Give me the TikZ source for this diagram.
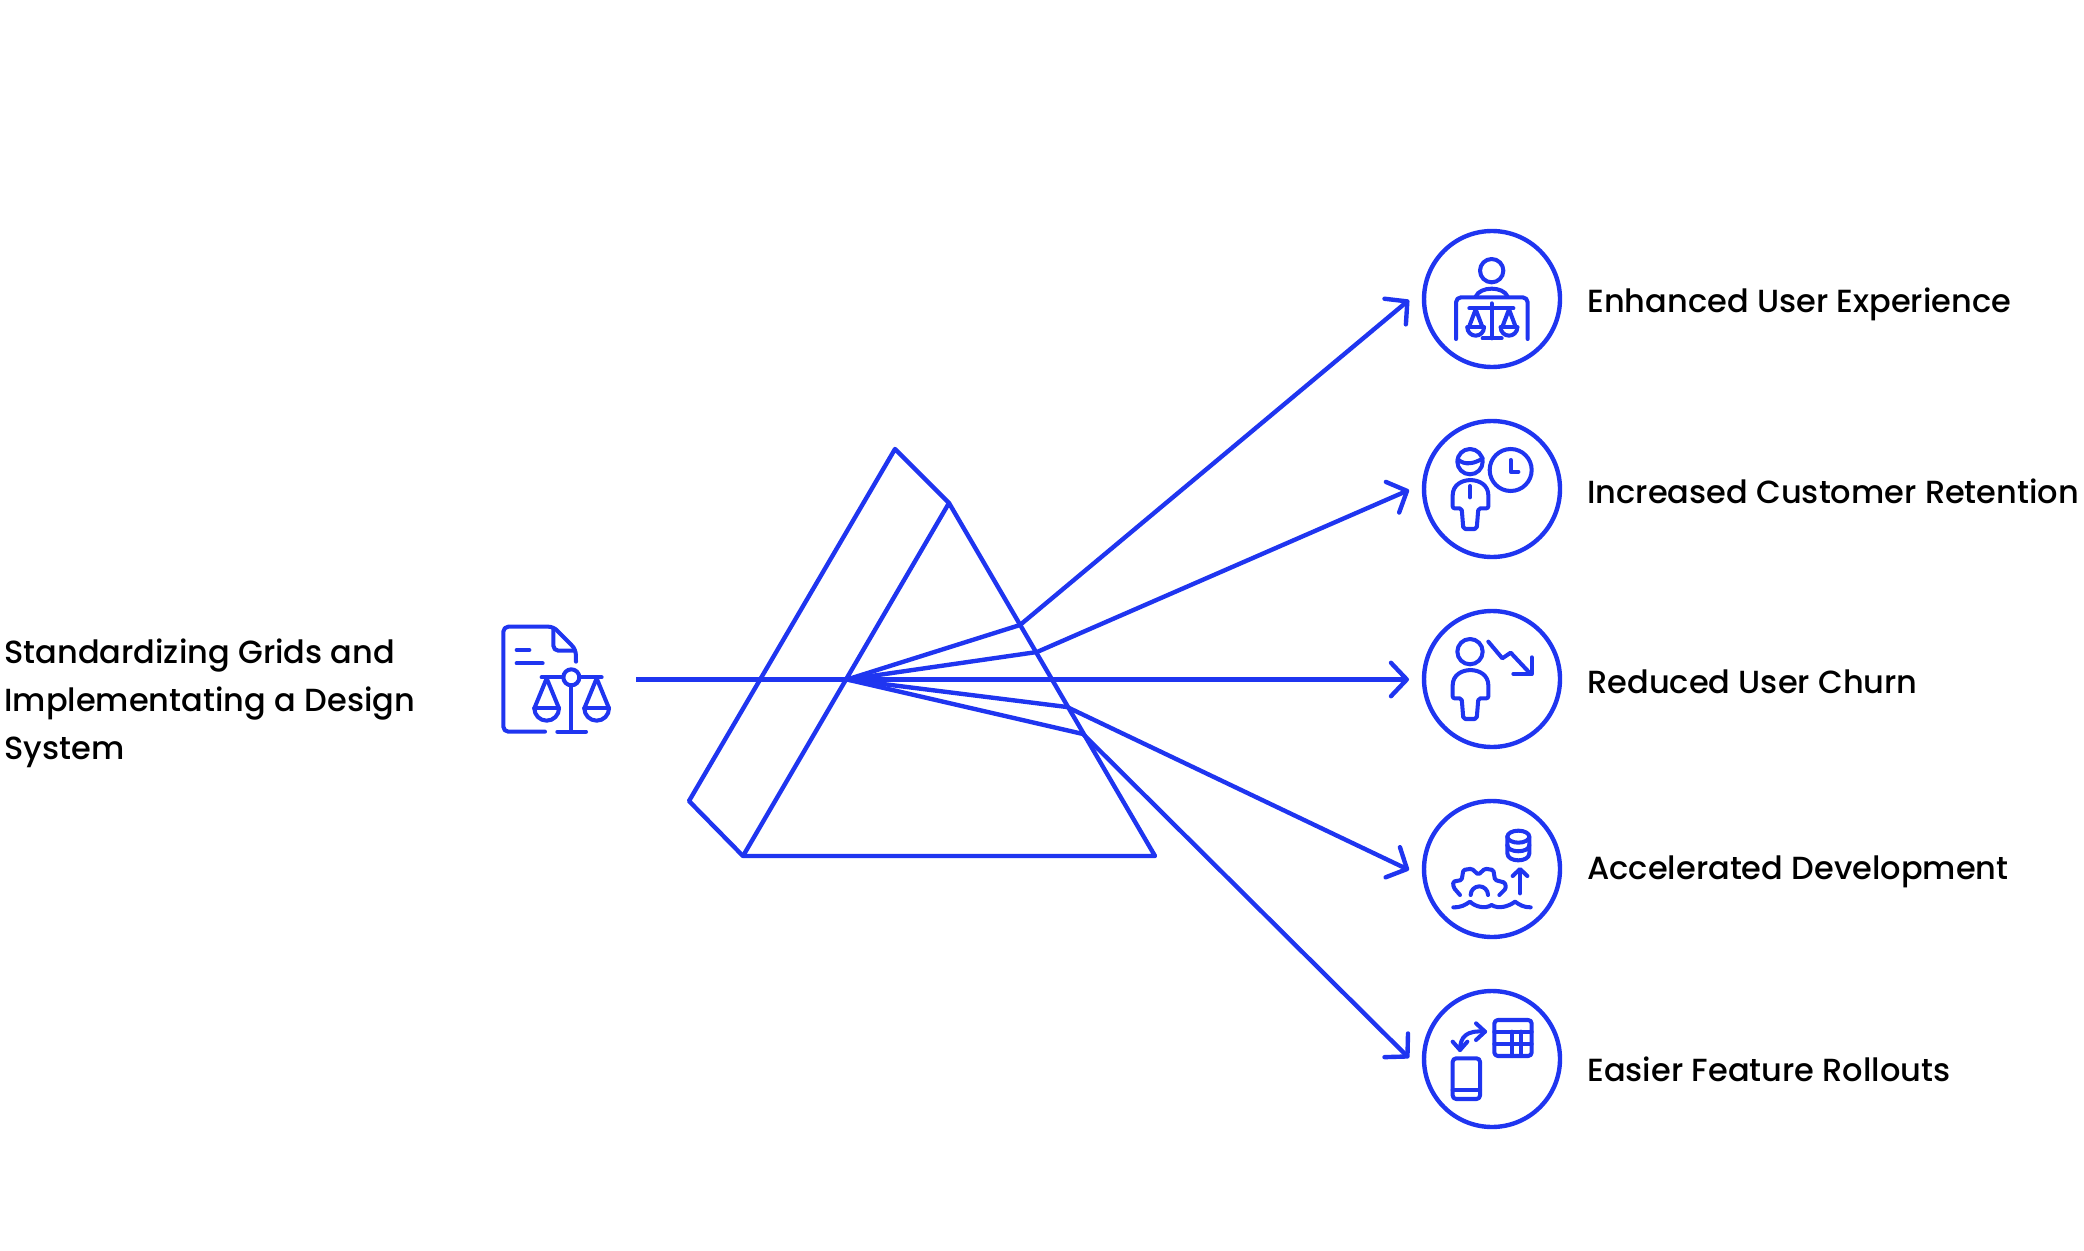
\documentclass[tikz,border=0pt]{standalone}
\usepackage{fontspec}
\setmainfont{Poppins}[UprightFont=* Medium]
\usetikzlibrary{arrows.meta}
\definecolor{prismblue}{HTML}{1F35F0}
\tikzset{
  prism/.style={prismblue,line width=2.5pt,line join=round},
  ray/.style={prismblue,line width=2.5pt,line join=round},
  tip/.style={-{Straight Barb[length=9pt,width=19pt,line width=2.5pt,round]}},
  ring/.style={circle,draw=prismblue,line width=2.5pt,minimum size=2.72cm,inner sep=0pt},
  icon/.style={prismblue,line width=2.3pt,line cap=round,line join=round},
  label/.style={anchor=base west,inner sep=0pt,text=black,font=\fontsize{18.22}{27.3}\selectfont}
}
\begin{document}
\begin{tikzpicture}[x=0.02cm,y=-0.02cm]
  \useasboundingbox (0,0) rectangle (2084,1250);

  % prism
  \coordinate (topa) at (895,449);
  \coordinate (topb) at (949,503);
  \coordinate (right) at (1155,856);
  \coordinate (lowb) at (743,856);
  \coordinate (lowa) at (689,801);
  \draw[prism] (topa)--(topb)--(right)--(lowb)--(lowa)--cycle;
  \draw[prism] (topb)--(lowb);

  % rays
  \coordinate (start) at (636,679.5);
  \coordinate (refract) at (847,679.5);
  \coordinate (exita) at (1020,625);
  \coordinate (exitb) at (1037,652);
  \coordinate (exitd) at (1067,707);
  \coordinate (exite) at (1083,734);
  \coordinate (enda) at (1409,300);
  \coordinate (endb) at (1409,490);
  \coordinate (endc) at (1409,679.5);
  \coordinate (endd) at (1409,870);
  \coordinate (ende) at (1409,1058);
  \draw[ray] (start)--(refract);
  \draw[ray,tip] (refract)--(endc);
  \foreach \n in {a,b,d,e}
    \draw[ray,tip] (refract)--(exit\n)--(end\n);

  % rings and labels
  \node[ring] (ringa) at (1492,299) {};
  \node[ring] (ringb) at (1492,489) {};
  \node[ring] (ringc) at (1492,679) {};
  \node[ring] (ringd) at (1492,869) {};
  \node[ring] (ringe) at (1492,1059) {};
  \node[label] (labela) at (1587,312) {Enhanced User Experience};
  \node[label] (labelb) at (1587,503) {Increased Customer Retention};
  \node[label] (labelc) at (1587,693) {Reduced User Churn};
  \node[label] (labeld) at (1587,879) {Accelerated Development};
  \node[label] (labele) at (1587,1081) {Easier Feature Rollouts};
  \node[label,anchor=west,align=left] (source) at (4,703) {Standardizing Grids and\\Implementating a Design\\System};

  % document with scales
  \begin{scope}[shift={(480,600)},x=0.00667cm,y=-0.00667cm,icon]
    \draw[rounded corners=0.1cm] (195,395)--(70,395)--(70,80)--(220,80)--(287,148)--(288,185);
    \draw[rounded corners=0.1cm] (220,85)--(220,152)--(285,152);
    \draw (110,150)--(148,150);
    \draw (110,190)--(188,190);
    \draw (185,232)--(250,232);
    \draw (298,232)--(365,232);
    \draw (274,232) circle (24);
    \draw (274,256)--(274,395);
    \draw (232,395)--(318,395);
    \foreach \c in {200,350} {
      \draw (\c-37,325)--(\c,235)--(\c+37,325);
      \draw (\c-37,325)--(\c+37,325);
      \draw (\c-37,325) arc (180:0:37);
    }
  \end{scope}

  % person at desk
  \begin{scope}[shift={(1410,220)},x=0.00667cm,y=-0.00667cm,icon]
    \draw (245,152) circle (35);
    \draw (197,230) .. controls (210,198) and (280,198) .. (293,230);
    \draw[rounded corners=0.1cm] (138,357)--(138,232)--(353,232)--(353,357);
    \draw (178,265)--(310,265);
    \draw (245,250)--(245,355);
    \draw (218,355)--(275,355);
    \foreach \c in {197,297} {
      \draw (\c-19,318)--(\c,268)--(\c+19,318);
      \draw (\c-25,322)--(\c+25,322);
      \draw (\c-25,322) arc (180:0:25);
    }
  \end{scope}

  % person with clock
  \begin{scope}[shift={(1410,410)},x=0.00667cm,y=-0.00667cm,icon]
    \draw (180,155) circle (38);
    \draw (143,148) .. controls (165,168) and (195,160) .. (218,145);
    \draw[rounded corners=0.04cm] (128,295)--(128,262) .. controls (128,195) and (235,195) .. (235,262)--(235,295)--(205,295)--(200,357)--(160,357)--(155,295)--cycle;
    \draw (180,228)--(180,262);
    \draw (302,180) circle (63);
    \draw (302,150)--(302,185)--(325,185);
  \end{scope}

  % person with falling arrow
  \begin{scope}[shift={(1410,600)},x=0.00667cm,y=-0.00667cm,icon]
    \draw (180,155) circle (38);
    \draw[rounded corners=0.04cm] (128,295)--(128,262) .. controls (128,195) and (235,195) .. (235,262)--(235,295)--(205,295)--(200,357)--(160,357)--(155,295)--cycle;
    \draw (235,125)--(277,175)--(302,158)--(362,222);
    \draw (310,222)--(365,222)--(365,172);
  \end{scope}

  % gear and database
  \begin{scope}[shift={(1410,790)},x=0.00667cm,y=-0.00667cm,icon]
    \draw (325,140) ellipse (33 and 18);
    \draw (292,140)--(292,190) .. controls (292,218) and (358,218) .. (358,190)--(358,140);
    \draw (292,165) .. controls (292,190) and (358,190) .. (358,165);
    \draw (330,240)--(330,310);
    \draw (308,258)--(330,237)--(352,258);
    \draw[rounded corners=0.03cm] (150,315)--(131,293)--(129,275)--(155,270)--(160,240)--(185,236)--(205,254)--(225,236)--(250,240)--(255,270)--(285,278)--(288,295)--(268,315);
    \draw (182,315) arc (180:360:26);
    \draw (130,352) .. controls (155,352) and (165,345) .. (180,335) .. controls (195,350) and (225,358) .. (245,345) .. controls (265,358) and (295,350) .. (315,335) .. controls (330,345) and (340,352) .. (362,352);
  \end{scope}

  % phone and table
  \begin{scope}[shift={(1410,980)},x=0.00667cm,y=-0.00667cm,icon]
    \draw[rounded corners=0.07cm] (128,235) rectangle (210,357);
    \draw (128,330)--(210,330);
    \draw[rounded corners=0.07cm] (253,120) rectangle (365,228);
    \draw (253,155)--(365,155);
    \draw (253,192)--(365,192);
    \draw (305,155)--(305,228);
    \draw (333,155)--(333,228);
    \draw (225,155) .. controls (170,150) and (150,170) .. (150,210);
    \draw (198,130)--(225,155)--(198,180);
    \draw (128,185)--(150,210)--(172,185);
  \end{scope}
\end{tikzpicture}
\end{document}
